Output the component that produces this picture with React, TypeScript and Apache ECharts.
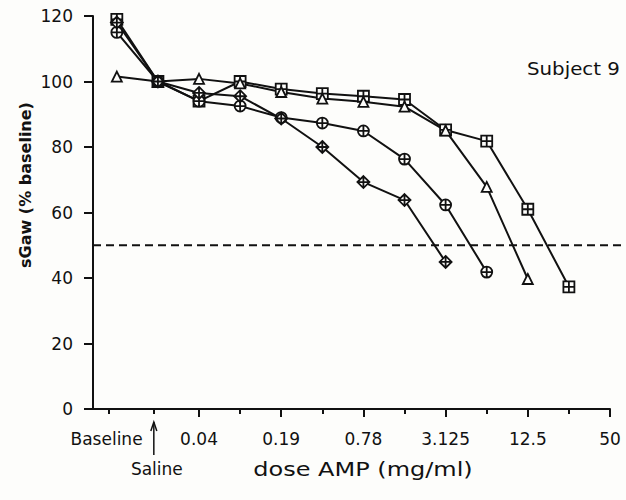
import React, { useEffect, useRef } from "react";
import * as echarts from "echarts";

// x categories: Baseline, Saline, then doses of AMP (mg/ml)
const doseCategories = ["Baseline", "Saline", "0.04", "0.09", "0.19", "0.39", "0.78", "1.56", "3.125", "6.25", "12.5", "25"];
// series values, sGaw (% baseline)
const squareValues = [119, 100, 94, 100, 97.7, 96.3, 95.5, 94.5, 85.2, 81.8, 61, 37.3];
const triangleValues = [101.5, 100, 100.8, 99.4, 96.8, 94.8, 93.8, 92.3, 85, 67.8, 39.7, null];
const circleValues = [115, 100, 94, 92.5, 89, 87.3, 84.9, 76.3, 62.3, 41.8, null, null];
const diamondValues = [118, 100, 96.5, 95.5, 88.7, 80, 69.3, 63.8, 44.9, null, null, null];

const thresholdValue = 50;

// axis ticks / labels
const xTickLabels = ["Baseline", "0.04", "0.19", "0.78", "3.125", "12.5", "50"];
const xTickLabelPositions = [-2.25, 0, 2, 4, 6, 8, 10];
const xMajorTicks = [0, 2, 4, 6, 8, 10];
const xMinorTicks = [-2.2, -1.1, 1, 3, 5, 7, 9];
const salinePosition = -1.1;

const yTicks = { min: 0, max: 120, interval: 20 };

const INK = "#111111";

const SYM_SQUARE = "path://M0,0H10V10H0Z M5,0V10 M0,5H10";
const SYM_CIRCLE = "path://M10,5A5,5 0 1 1 0,5A5,5 0 1 1 10,5Z M5,0V10 M0,5H10";
const SYM_DIAMOND = "path://M5,0L10,5L5,10L0,5Z M5,0V10 M0,5H10";
const SYM_TRIANGLE = "path://M5,0L10,9H0Z";

function toPoints(values: (number | null)[]) {
  return values
    .map((v, i) => (v == null ? null : [i - 2, v]))
    .filter((p) => p !== null);
}

export default function App() {
  const ref = useRef<HTMLDivElement>(null);

  useEffect(() => {
    if (!ref.current) return;
    const chart = echarts.init(ref.current, undefined, { renderer: "svg" });

    const mkSeries = (name: string, values: (number | null)[], symbol: string, size: number) => ({
      name,
      type: "line",
      data: toPoints(values),
      symbol,
      symbolSize: size,
      showAllSymbol: true,
      lineStyle: { color: INK, width: 2 },
      itemStyle: { color: "#fdfdfb", borderColor: INK, borderWidth: 1.8 },
      z: 3,
    });

    const xMin = -2.58;
    const xMax = 10;

    chart.setOption({
      animation: false,
      backgroundColor: "#fdfdfb",
      grid: { left: 93, right: 16, top: 16, bottom: 91, containLabel: false },
      xAxis: [
        {
          type: "value",
          min: xMin,
          max: xMax,
          axisLine: { show: true, onZero: false, lineStyle: { color: INK, width: 2 } },
          axisTick: { show: true, customValues: xMajorTicks, length: 8, lineStyle: { color: INK, width: 2 } },
          axisLabel: {
            show: true,
            customValues: xTickLabelPositions,
            margin: 21,
            color: INK,
            fontFamily: "DejaVu Sans",
            fontSize: 17,
            formatter: (v: number) => {
              const idx = xTickLabelPositions.findIndex((p) => Math.abs(p - v) < 1e-6);
              return idx >= 0 ? xTickLabels[idx] : "";
            },
          },
          splitLine: { show: false },
        },
        {
          type: "value",
          min: xMin,
          max: xMax,
          position: "bottom",
          axisLine: { show: false, onZero: false },
          axisTick: { show: true, customValues: xMinorTicks, length: 5, lineStyle: { color: INK, width: 2 } },
          axisLabel: { show: false },
          splitLine: { show: false },
        },
      ],
      yAxis: {
        type: "value",
        min: yTicks.min,
        max: yTicks.max,
        interval: yTicks.interval,
        axisLine: { show: true, onZero: false, lineStyle: { color: INK, width: 2 } },
        axisTick: { show: true, length: 9, lineStyle: { color: INK, width: 2 } },
        axisLabel: { color: INK, fontFamily: "DejaVu Sans", fontSize: 17, margin: 20 },
        splitLine: { show: false },
      },
      series: [
        mkSeries("square", squareValues, SYM_SQUARE, 11),
        mkSeries("triangle", triangleValues, SYM_TRIANGLE, 10),
        mkSeries("circle", circleValues, SYM_CIRCLE, 11),
        mkSeries("diamond", diamondValues, SYM_DIAMOND, 12),
      ],
    });

    const yThr = chart.convertToPixel({ yAxisIndex: 0 }, thresholdValue) as number;
    const x0 = chart.convertToPixel({ xAxisIndex: 0 }, xMin) as number;
    const xs = chart.convertToPixel({ xAxisIndex: 0 }, salinePosition) as number;
    const yBase = chart.convertToPixel({ yAxisIndex: 0 }, 0) as number;

    chart.setOption({
      graphic: [
        {
          type: "line",
          shape: { x1: x0, y1: yThr, x2: 623, y2: yThr },
          style: { stroke: INK, lineWidth: 2, lineDash: [8, 5] },
          z: 1,
        },
        {
          type: "line",
          shape: { x1: xs, y1: yBase + 13, x2: xs, y2: yBase + 46 },
          style: { stroke: INK, lineWidth: 1.5 },
        },
        {
          type: "polyline",
          shape: { points: [[xs - 3, yBase + 22], [xs, yBase + 13], [xs + 3, yBase + 22]] },
          style: { stroke: INK, lineWidth: 1.5, fill: "none" },
        },
        {
          type: "text",
          x: xs + 3,
          y: 469,
          style: { text: "Saline", fill: INK, font: "17px 'DejaVu Sans'", align: "center", verticalAlign: "middle" },
        },
        {
          type: "text",
          x: 363,
          y: 469,
          scaleX: 1.2,
          style: { text: "dose AMP (mg/ml)", fill: INK, font: "20px 'DejaVu Sans'", align: "center", verticalAlign: "middle" },
        },
        {
          type: "text",
          x: 25,
          y: 185,
          rotation: Math.PI / 2,
          style: { text: "sGaw (% baseline)", fill: INK, font: "bold 16px 'DejaVu Sans'", align: "center", verticalAlign: "middle" },
        },
        {
          type: "text",
          x: 527,
          y: 68,
          scaleX: 1.1,
          style: { text: "Subject 9", fill: INK, font: "18px 'DejaVu Sans'", align: "left", verticalAlign: "middle" },
        },
      ],
    });

    return () => chart.dispose();
  }, []);

  return <div ref={ref} style={{ position: "absolute", left: 0, top: 0, width: 626, height: 500 }} />;
}
